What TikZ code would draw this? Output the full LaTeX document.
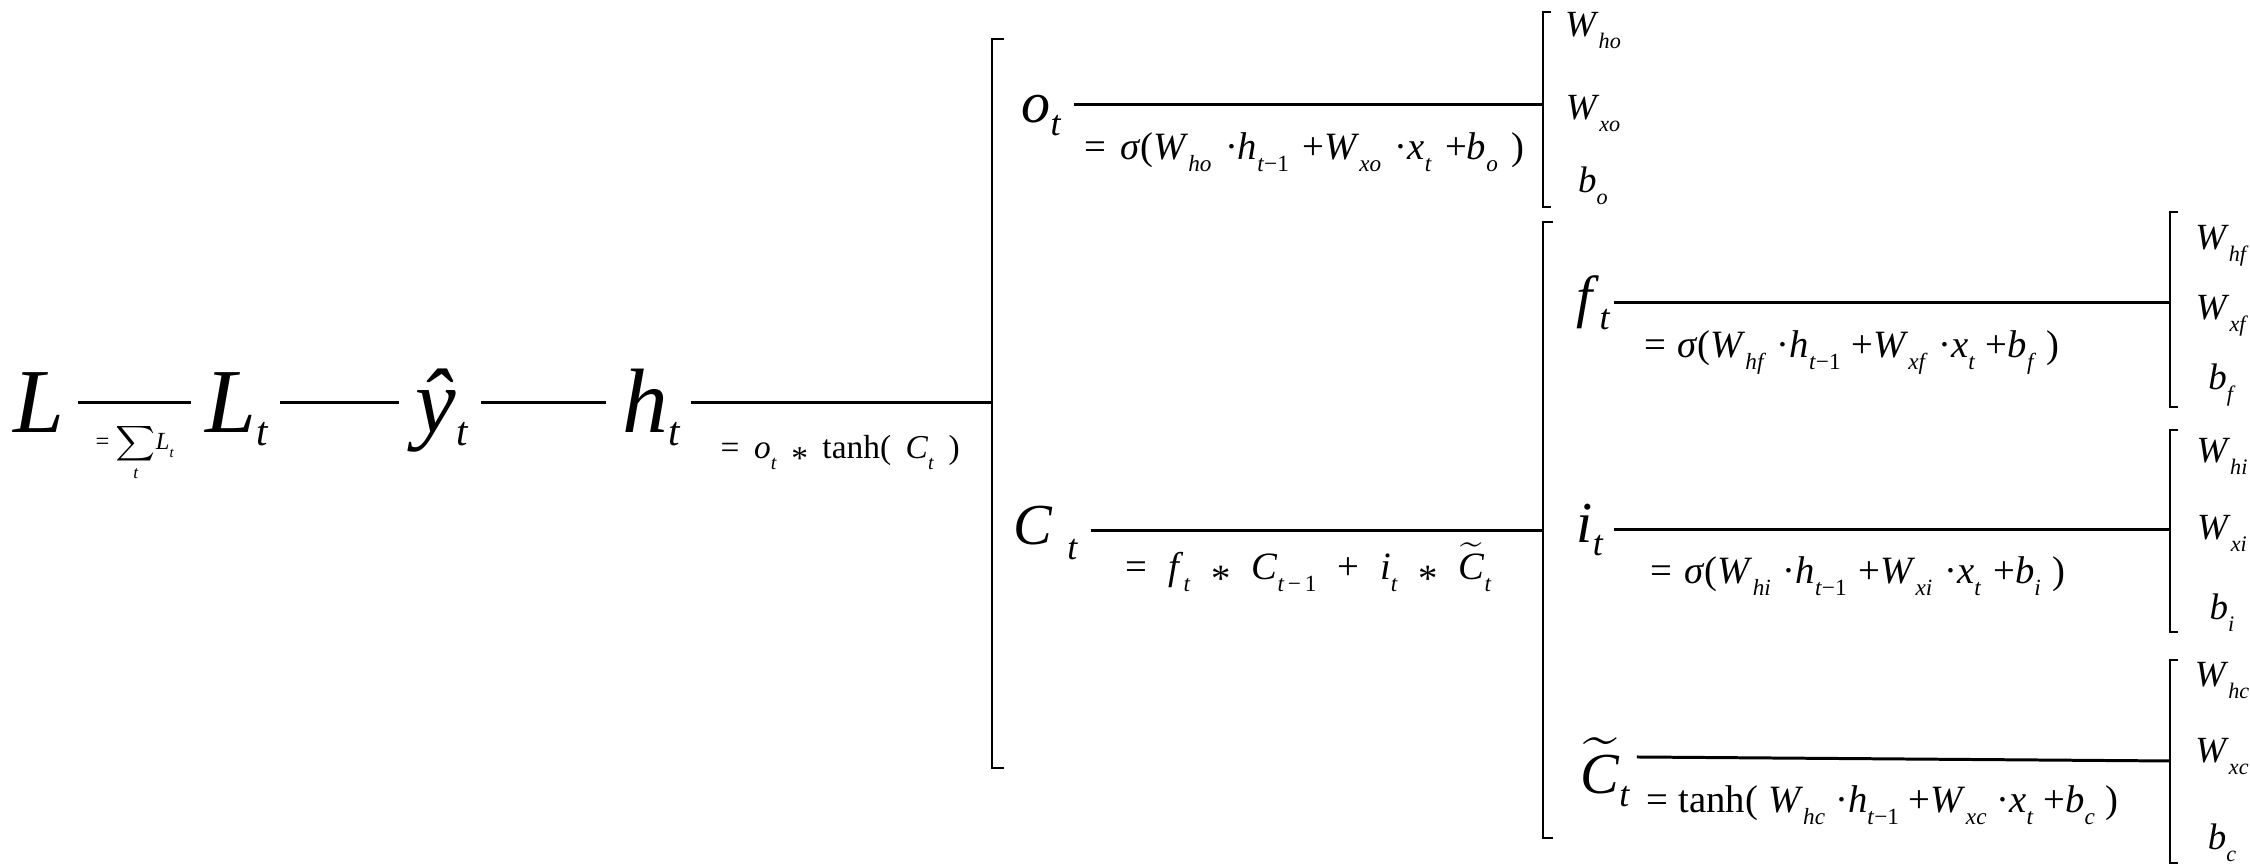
\documentclass[tikz,border=0pt]{standalone}
\usepackage{fontspec}
\setmainfont{Liberation Serif}
\usepackage{amsmath}
\usetikzlibrary{calc}
\newcommand\sbb[1]{\raisebox{-0.14em}{\scalebox{0.45}{\textit{#1}}}}
\newcommand\sbm[1]{\raisebox{-0.22em}{\scalebox{0.62}{\textit{#1}}}}
\newcommand\sbt[1]{\raisebox{-0.3em}{\scalebox{0.6}{\textit{#1}}}}
\newcommand\mystar{\raisebox{-0.3em}{*}}
\newcommand\tildeC{$\widetilde{\textit{C}}$}
\begin{document}
\begin{tikzpicture}[x=0.01cm,y=-0.01cm,
  big/.style={font=\fontsize{26}{30}\selectfont, inner sep=0pt, anchor=base west},
  mid/.style={font=\fontsize{16.5}{19}\selectfont, inner sep=0pt, anchor=base west},
  frm/.style={font=\fontsize{11}{13}\selectfont, inner sep=0pt, anchor=base west},
  lbl/.style={font=\fontsize{10.5}{12}\selectfont, inner sep=0pt, anchor=base},
  conn/.style={line width=0.85pt},
  brk/.style={line width=0.6pt}]
\useasboundingbox (0,0) rectangle (2250,868);
% reference heights of connectors
\coordinate (ych) at (0,403);
\coordinate (yo) at (0,105);
\coordinate (yc) at (0,531);
\coordinate (yf) at (0,303);
\coordinate (yi) at (0,530);
\coordinate (yct0) at (0,757);
\coordinate (yct) at (0,761);

% main chain
\node[big] (L)  at (13,433)  {\textit{L}};
\node[big] (Lt) at (205,433) {\textit{L}\sbb{t}};
\node[big] (yt) at (415,433) {\textit{ŷ}\sbb{t}};
\node[big] (ht) at (622,433) {\textit{h}\sbb{t}};
\draw[conn] ($(L.east|-ych)+(13,0)$) -- ($(Lt.west|-ych)+(-14,0)$);
\draw[conn] ($(Lt.east|-ych)+(10,0)$) -- ($(yt.west|-ych)+(-16,0)$);
\draw[conn] ($(yt.east|-ych)+(12,0)$) -- ($(ht.west|-ych)+(-16,0)$);
\node[inner sep=0pt, anchor=base west, font=\fontsize{7}{8}\selectfont] (sumL) at (95,450)
  {= $\displaystyle\sum_{\textit{t}}$\textit{L}\sbt{t}};
\node[inner sep=0pt, anchor=base west, font=\fontsize{9.5}{11}\selectfont] (htf) at (720,459)
  {\makebox[68pt][s]{= \textit{o}\sbt{t} \mystar{} tanh( \textit{C}\sbt{t} )}};

% big bracket
\coordinate (B0t) at (992,39);
\coordinate (B0b) at (992,768);
\draw[brk] ($(B0t)+(12,0)$) -- (B0t) -- (B0b) -- ($(B0b)+(12,0)$);
\draw[conn] ($(ht.east|-ych)+(10,0)$) -- (B0t|-ych);

% o_t
\node[mid] (ot) at (1021,123) {\textit{o}\sbm{t}};
\coordinate (B1t) at (1543,12);
\coordinate (B1b) at (1543,207);
\draw[brk] ($(B1t)+(8,0)$) -- (B1t) -- (B1b) -- ($(B1b)+(8,0)$);
\draw[conn] ($(ot.east|-yo)+(12,0)$) -- (B1t|-yo);
\node[frm] (of) at (1084,160) {\makebox[125pt][s]{= \textit{σ}(\textit{W}\sbt{ho} ·\textit{h}\sbt{t\textup{−1}} +\textit{W}\sbt{xo} ·\textit{x}\sbt{t} +\textit{b}\sbt{o} )}};
\node[lbl] (Who) at (1593,37)  {\textit{W}\sbt{ho}};
\node[lbl] (Wxo) at (1593,120) {\textit{W}\sbt{xo}};
\node[lbl] (bo)  at (1593,193) {\textit{b}\sbt{o}};

% C_t
\node[mid] (Ct) at (1013,545) {\textit{C}\hspace{0.25em}\raisebox{-0.25em}{\scalebox{0.62}{\textit{t}}}};
\coordinate (B2t) at (1543,222);
\coordinate (B2b) at (1543,838);
\draw[brk] ($(B2t)+(10,0)$) -- (B2t) -- (B2b) -- ($(B2b)+(10,0)$);
\draw[conn] ($(Ct.east|-yc)+(12,0)$) -- (B2t|-yc);
\node[frm] (cf) at (1125,580)
  {\makebox[104pt][s]{= \textit{f}\sbt{t} \mystar{} \textit{C}\sbt{t\,\textup{−\,1}} + \textit{i}\sbt{t} \mystar{} \tildeC\sbt{t}}};

% f_t
\node[mid] (ft) at (1576,317) {\textit{f}\sbm{t}};
\coordinate (B3t) at (2170,212);
\coordinate (B3b) at (2170,407);
\draw[brk] ($(B3t)+(8,0)$) -- (B3t) -- (B3b) -- ($(B3b)+(8,0)$);
\draw[conn] ($(ft.east|-yf)+(3,0)$) -- (B3t|-yf);
\node[frm] (ff) at (1644,358) {\makebox[118pt][s]{= \textit{σ}(\textit{W}\sbt{hf} ·\textit{h}\sbt{t\textup{−1}} +\textit{W}\sbt{xf} ·\textit{x}\sbt{t} +\textit{b}\sbt{f} )}};
\node[lbl] (Whf) at (2222,250) {\textit{W}\sbt{hf}};
\node[lbl] (Wxf) at (2222,320) {\textit{W}\sbt{xf}};
\node[lbl] (bf)  at (2222,390) {\textit{b}\sbt{f}};

% i_t
\node[mid] (it) at (1576,543) {\textit{i}\sbm{t}};
\coordinate (B4t) at (2170,430);
\coordinate (B4b) at (2170,632);
\draw[brk] ($(B4t)+(8,0)$) -- (B4t) -- (B4b) -- ($(B4b)+(8,0)$);
\draw[conn] ($(it.east|-yi)+(10,0)$) -- (B4t|-yi);
\node[frm] (if) at (1650,584) {\makebox[118pt][s]{= \textit{σ}(\textit{W}\sbt{hi} ·\textit{h}\sbt{t\textup{−1}} +\textit{W}\sbt{xi} ·\textit{x}\sbt{t} +\textit{b}\sbt{i} )}};
\node[lbl] (Whi) at (2222,463) {\textit{W}\sbt{hi}};
\node[lbl] (Wxi) at (2222,540) {\textit{W}\sbt{xi}};
\node[lbl] (bi)  at (2222,620) {\textit{b}\sbt{i}};

% C tilde
\node[mid] (ctt) at (1580,794) {\tildeC\sbm{t}};
\coordinate (B5t) at (2170,660);
\coordinate (B5b) at (2170,863);
\draw[brk] ($(B5t)+(8,0)$) -- (B5t) -- (B5b) -- ($(B5b)+(8,0)$);
\draw[conn] ($(ctt.east|-yct0)+(6,0)$) -- (B5t|-yct);
\node[frm] (ctf) at (1646,813) {\makebox[134pt][s]{= tanh( \textit{W}\sbt{hc} ·\textit{h}\sbt{t\textup{−1}} +\textit{W}\sbt{xc} ·\textit{x}\sbt{t} +\textit{b}\sbt{c} )}};
\node[lbl] (Whc) at (2222,687) {\textit{W}\sbt{hc}};
\node[lbl] (Wxc) at (2222,763) {\textit{W}\sbt{xc}};
\node[lbl] (bc)  at (2222,850) {\textit{b}\sbt{c}};
\end{tikzpicture}
\end{document}
